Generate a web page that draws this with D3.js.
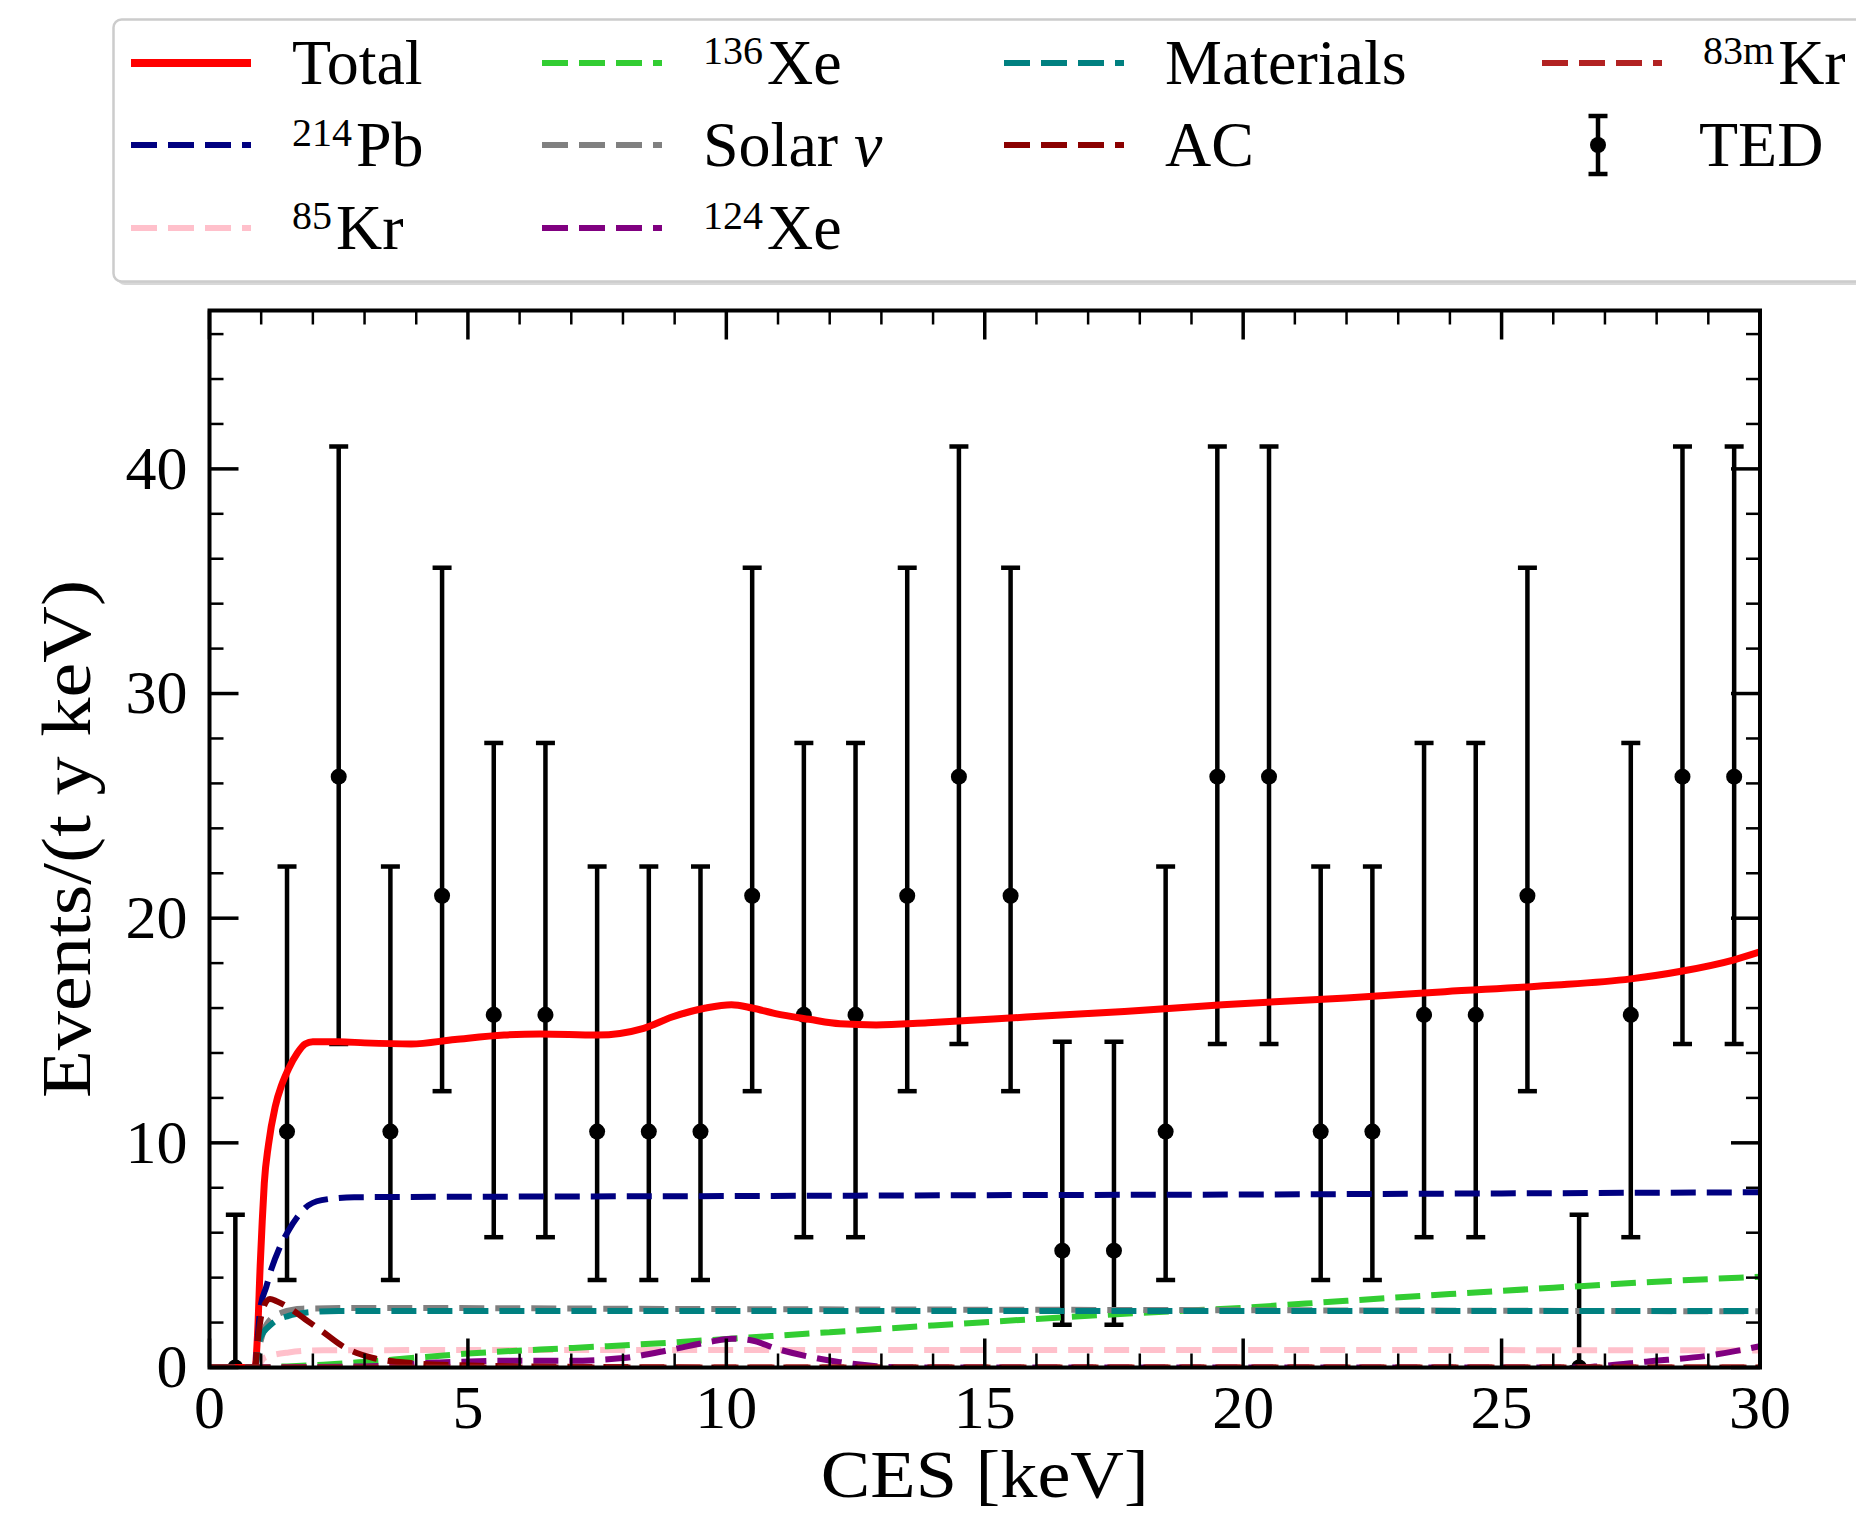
<!DOCTYPE html>
<html>
<head>
<meta charset="utf-8">
<script src="https://cdn.jsdelivr.net/npm/d3@7"></script>
<style>
  body { margin: 0; background: #fff; }
  svg text { font-family: "Liberation Serif", "DejaVu Serif", serif; fill: #000; }
</style>
</head>
<body>
<div id="chart"></div>
<script>
// TED histogram, 1 keV bins
const binCenters = [0.5, 1.5, 2.5, 3.5, 4.5, 5.5, 6.5, 7.5, 8.5, 9.5, 10.5, 11.5, 12.5, 13.5, 14.5,
                    15.5, 16.5, 17.5, 18.5, 19.5, 20.5, 21.5, 22.5, 23.5, 24.5, 25.5, 26.5, 27.5, 28.5, 29.5];
const tedRate = [0, 10.5, 26.3, 10.5, 21.0, 15.7, 15.7, 10.5, 10.5, 10.5, 21.0, 15.7, 15.7, 21.0, 26.3,
                 21.0, 5.2, 5.2, 10.5, 26.3, 26.3, 10.5, 10.5, 15.7, 15.7, 21.0, 0, 15.7, 26.3, 26.3];
const tedLow = [0, 3.9, 14.4, 3.9, 12.3, 5.8, 5.8, 3.9, 3.9, 3.9, 12.3, 5.8, 5.8, 12.3, 14.4,
                12.3, 1.9, 1.9, 3.9, 14.4, 14.4, 3.9, 3.9, 5.8, 5.8, 12.3, 0, 5.8, 14.4, 14.4];
const tedHigh = [6.8, 22.3, 41.0, 22.3, 35.6, 27.8, 27.8, 22.3, 22.3, 22.3, 35.6, 27.8, 27.8, 35.6, 41.0,
                 35.6, 14.5, 14.5, 22.3, 41.0, 41.0, 22.3, 22.3, 27.8, 27.8, 35.6, 6.8, 27.8, 41.0, 41.0];

// model components, [CES keV, events/(t y keV)]
const totalCurve = [[0,0],[0.88,0],[0.93,1.5],[0.98,4.5],[1.02,6.5],[1.06,8.2],[1.14,9.9],[1.27,11.6],[1.4,12.6],
  [1.53,13.3],[1.7,14.0],[1.85,14.4],[2.0,14.5],[2.5,14.5],[3.0,14.45],[3.9,14.4],[4.75,14.6],[5.7,14.8],
  [6.4,14.85],[7.5,14.8],[8.4,15.1],[8.95,15.6],[9.6,16.0],[10.1,16.15],[10.5,16.0],[10.95,15.75],[11.6,15.5],
  [12.2,15.3],[12.9,15.25],[13.9,15.35],[15.8,15.6],[17.7,15.85],[19.6,16.15],[22.0,16.45],[23.9,16.73],
  [25.9,17.0],[27.5,17.3],[28.5,17.65],[29.5,18.15],[30,18.5]];
const pb214Curve = [[0,0],[0.88,0],[0.93,1.2],[0.98,2.6],[1.1,3.6],[1.2,4.4],[1.35,5.3],[1.53,6.1],[1.7,6.7],
  [1.85,7.1],[2.17,7.45],[2.8,7.58],[5,7.6],[10,7.63],[15,7.67],[20,7.7],[25,7.75],[30,7.8]];
const kr85Curve = [[0,0],[0.9,0],[1.07,0.44],[1.53,0.67],[2.2,0.77],[10,0.78],[20,0.78],[30,0.76]];
const xe136Curve = [[0,0],[0.9,0],[1.5,0.05],[2.2,0.12],[3,0.25],[4,0.44],[5,0.62],[6.4,0.8],[7.7,0.95],[9,1.12],
  [10,1.27],[12,1.57],[14,1.87],[16,2.16],[18,2.43],[20,2.66],[22,2.97],[24,3.27],[26,3.55],[28,3.82],[30,4.04]];
const solarCurve = [[0,0],[0.88,0],[0.95,0.8],[1.1,1.9],[1.4,2.45],[1.8,2.62],[3,2.65],[10,2.6],[20,2.55],[30,2.5]];
const xe124Curve = [[0,0],[3,0.05],[4.4,0.22],[5.7,0.3],[7,0.3],[8,0.42],[8.95,0.8],[9.7,1.15],[10.1,1.28],
  [10.5,1.2],[10.95,0.85],[11.6,0.48],[12.2,0.24],[12.9,0.06],[13.5,0],[26.5,0],[26.8,0.04],[27.8,0.26],
  [29.1,0.56],[30,0.95]];
const materialsCurve = [[0,0],[0.88,0],[0.93,0.6],[0.98,1.3],[1.2,1.93],[1.53,2.3],[1.85,2.44],[2.5,2.52],
  [10,2.52],[20,2.52],[30,2.52]];
const acCurve = [[0,0],[0.88,0],[0.95,1.5],[1.03,2.6],[1.17,3.05],[1.3,2.95],[1.53,2.67],[1.85,2.15],[2.17,1.63],
  [2.62,0.89],[3.14,0.44],[3.79,0.22],[4.8,0.1],[6,0.05],[8,0.02],[10,0],[30,0]];
const kr83mCurve = [[0,0],[30,0]];

const xTicks = [0, 5, 10, 15, 20, 25, 30];
const yTicks = [0, 10, 20, 30, 40];
const xLabel = "CES [keV]";
const yLabel = "Events/(t y keV)";

let WD = 1856, HT = 1516;
let plot = { left: 209.5, right: 1760, top: 310.5, bottom: 1367.5 };

var x = d3.scaleLinear().domain([0, 30]).range([plot.left, plot.right]);
var y = d3.scaleLinear().domain([0, 47.05]).range([plot.bottom, plot.top]);

// series in legend order (errorbar entry last)
var series = [
  { data: totalCurve, color: "#ff0000", sup: "", name: "Total", solid: true },
  { data: pb214Curve, color: "#000080", sup: "214", name: "Pb" },
  { data: kr85Curve, color: "#ffc0cb", sup: "85", name: "Kr" },
  { data: xe136Curve, color: "#32cd32", sup: "136", name: "Xe" },
  { data: solarCurve, color: "#808080", sup: "", name: "Solar ", nu: true },
  { data: xe124Curve, color: "#800080", sup: "124", name: "Xe" },
  { data: materialsCurve, color: "#008080", sup: "", name: "Materials" },
  { data: acCurve, color: "#8b0000", sup: "", name: "AC" },
  { data: kr83mCurve, color: "#b22222", sup: "83m", name: "Kr" }
];

var svg = d3.select("#chart").append("svg")
  .attr("width", WD)
  .attr("height", HT);

svg.append("defs").append("clipPath").attr("id", "plotclip")
  .append("rect")
  .attr("x", plot.left).attr("y", plot.top)
  .attr("width", plot.right - plot.left).attr("height", plot.bottom - plot.top);

var g = svg.append("g").attr("clip-path", "url(#plotclip)");

// TED error bars
var ted = binCenters.map(function(c, i) {
  return { x: c, v: tedRate[i], lo: tedLow[i], hi: tedHigh[i] };
});
var eb = g.append("g").attr("class", "ted");
eb.selectAll("line.bar").data(ted).enter().append("line")
  .attr("x1", d => x(d.x)).attr("x2", d => x(d.x))
  .attr("y1", d => y(d.lo)).attr("y2", d => y(d.hi))
  .attr("stroke", "#000").attr("stroke-width", 4.5);
eb.selectAll("line.capTop").data(ted).enter().append("line")
  .attr("x1", d => x(d.x) - 9.5).attr("x2", d => x(d.x) + 9.5)
  .attr("y1", d => y(d.hi)).attr("y2", d => y(d.hi))
  .attr("stroke", "#000").attr("stroke-width", 4.5);
eb.selectAll("line.capBot").data(ted).enter().append("line")
  .attr("x1", d => x(d.x) - 9.5).attr("x2", d => x(d.x) + 9.5)
  .attr("y1", d => y(d.lo)).attr("y2", d => y(d.lo))
  .attr("stroke", "#000").attr("stroke-width", 4.5);
eb.selectAll("circle").data(ted).enter().append("circle")
  .attr("cx", d => x(d.x)).attr("cy", d => y(d.v))
  .attr("r", 8).attr("fill", "#000");

// model curves
var line = d3.line()
  .x(d => x(d[0]))
  .y(d => y(d[1]))
  .curve(d3.curveMonotoneX);

g.selectAll("path.curve").data(series).enter().append("path")
  .attr("class", "curve")
  .attr("d", d => line(d.data))
  .attr("fill", "none")
  .attr("stroke", d => d.color)
  .attr("stroke-width", d => d.solid ? 7 : 6)
  .attr("stroke-dasharray", d => d.solid ? null : "25,11");

// axes: ticks pointing inward on all four sides
function styleAxis(sel, w) {
  sel.select(".domain").remove();
  sel.selectAll(".tick line").attr("stroke", "#000").attr("stroke-width", w);
  sel.attr("font-family", null).attr("font-size", 62);
}
var xMinor = d3.range(0, 31, 1).filter(v => v % 5 !== 0);
var yMinor = d3.range(0, 47, 2).filter(v => v % 10 !== 0);

svg.append("g").attr("transform", "translate(0," + plot.bottom + ")")
  .call(d3.axisBottom(x).tickValues(xTicks).tickSize(-29).tickPadding(16).offset(0).tickFormat(d3.format("d")))
  .call(styleAxis, 3.5);
svg.append("g").attr("transform", "translate(0," + plot.bottom + ")")
  .call(d3.axisBottom(x).tickValues(xMinor).tickSize(-14).offset(0).tickFormat(""))
  .call(styleAxis, 2.5);
svg.append("g").attr("transform", "translate(0," + plot.top + ")")
  .call(d3.axisTop(x).tickValues(xTicks).tickSize(-29).offset(0).tickFormat(""))
  .call(styleAxis, 3.5);
svg.append("g").attr("transform", "translate(0," + plot.top + ")")
  .call(d3.axisTop(x).tickValues(xMinor).tickSize(-14).offset(0).tickFormat(""))
  .call(styleAxis, 2.5);
svg.append("g").attr("transform", "translate(" + plot.left + ",0)")
  .call(d3.axisLeft(y).tickValues(yTicks).tickSize(-29).tickPadding(22).offset(0).tickFormat(d3.format("d")))
  .call(styleAxis, 3.5);
svg.append("g").attr("transform", "translate(" + plot.left + ",0)")
  .call(d3.axisLeft(y).tickValues(yMinor).tickSize(-14).offset(0).tickFormat(""))
  .call(styleAxis, 2.5);
svg.append("g").attr("transform", "translate(" + plot.right + ",0)")
  .call(d3.axisRight(y).tickValues(yTicks).tickSize(-29).offset(0).tickFormat(""))
  .call(styleAxis, 3.5);
svg.append("g").attr("transform", "translate(" + plot.right + ",0)")
  .call(d3.axisRight(y).tickValues(yMinor).tickSize(-14).offset(0).tickFormat(""))
  .call(styleAxis, 2.5);

// frame
svg.append("rect")
  .attr("x", plot.left).attr("y", plot.top)
  .attr("width", plot.right - plot.left).attr("height", plot.bottom - plot.top)
  .attr("fill", "none").attr("stroke", "#000").attr("stroke-width", 4);

// axis titles
svg.append("text")
  .attr("x", (plot.left + plot.right) / 2).attr("y", 1497)
  .attr("text-anchor", "middle").attr("font-size", 68)
  .attr("textLength", 328).attr("lengthAdjust", "spacingAndGlyphs")
  .text(xLabel);
svg.append("text")
  .attr("transform", "translate(90," + (plot.top + plot.bottom) / 2 + ") rotate(-90)")
  .attr("text-anchor", "middle").attr("font-size", 70)
  .attr("textLength", 518).attr("lengthAdjust", "spacingAndGlyphs")
  .text(yLabel);

// legend, 4 columns filled column by column
var leg = svg.append("g").attr("class", "legend");
leg.append("rect")
  .attr("x", 117).attr("y", 23).attr("width", 1770).attr("height", 262)
  .attr("rx", 8).attr("fill", "#d8d8d8");
leg.append("rect")
  .attr("x", 113.5).attr("y", 19.5).attr("width", 1770).attr("height", 262)
  .attr("rx", 8).attr("fill", "#fff").attr("stroke", "#cccccc").attr("stroke-width", 2.5);

var colX = [131, 542, 1004, 1542];
var rowY = [63, 145, 228];
var slots = [[0,0],[0,1],[0,2],[1,0],[1,1],[1,2],[2,0],[2,1],[3,0],[3,1]];

series.forEach(function(s, i) {
  var hx = colX[slots[i][0]], hy = rowY[slots[i][1]];
  leg.append("line")
    .attr("x1", hx).attr("x2", hx + 120).attr("y1", hy).attr("y2", hy)
    .attr("stroke", s.color)
    .attr("stroke-width", s.solid ? 8 : 6)
    .attr("stroke-dasharray", s.solid ? null : "26,11");
  var t = leg.append("text").attr("x", hx + 161).attr("y", hy + 21).attr("font-size", 64);
  if (s.sup) {
    t.append("tspan").attr("font-size", 40).attr("dy", -20).text(s.sup);
    t.append("tspan").attr("dy", 20).attr("dx", 4).text(s.name);
  } else {
    t.append("tspan").text(s.name);
    if (s.nu) t.append("tspan").attr("font-style", "italic").text("\u03bd");
  }
});

// TED entry
var tx = colX[slots[9][0]] + 56, ty = rowY[slots[9][1]];
leg.append("line").attr("x1", tx).attr("x2", tx).attr("y1", ty - 29).attr("y2", ty + 29)
  .attr("stroke", "#000").attr("stroke-width", 4.5);
leg.append("line").attr("x1", tx - 9.5).attr("x2", tx + 9.5).attr("y1", ty - 29).attr("y2", ty - 29)
  .attr("stroke", "#000").attr("stroke-width", 4.5);
leg.append("line").attr("x1", tx - 9.5).attr("x2", tx + 9.5).attr("y1", ty + 29).attr("y2", ty + 29)
  .attr("stroke", "#000").attr("stroke-width", 4.5);
leg.append("circle").attr("cx", tx).attr("cy", ty).attr("r", 8).attr("fill", "#000");
leg.append("text").attr("x", colX[3] + 157).attr("y", ty + 21).attr("font-size", 64).text("TED");
</script>
</body>
</html>
